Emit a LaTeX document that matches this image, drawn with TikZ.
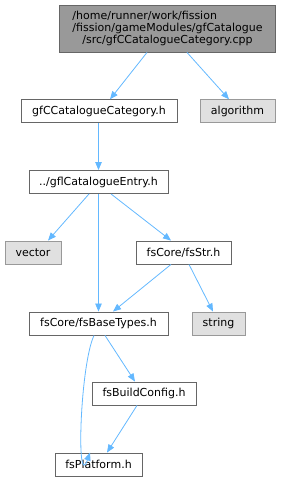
\documentclass[tikz,border=0pt]{standalone}
\usepackage{fontspec}
\setmainfont{DejaVu Sans}
\usetikzlibrary{arrows.meta}
\definecolor{edgeblue}{HTML}{63B8FF}
\definecolor{boxborder}{HTML}{666666}
\definecolor{extfill}{HTML}{E0E0E0}
\definecolor{extborder}{HTML}{999999}
\definecolor{topfill}{HTML}{999999}
\begin{document}
\begin{tikzpicture}[x=1pt,y=1pt,
  every node/.style={font=\fontsize{11}{13}\selectfont, inner sep=0pt, text=black},
  filebox/.style={draw=boxborder, fill=white, line width=0.9pt, minimum height=23pt},
  extbox/.style={draw=extborder, fill=extfill, line width=0.9pt, minimum height=23pt},
  topbox/.style={draw=boxborder, fill=topfill, line width=0.9pt, minimum height=47pt, minimum width=216pt},
  dep/.style={draw=edgeblue, line width=0.8pt, -{Triangle[length=8pt,width=6.5pt]}}]
\useasboundingbox (0,0) rectangle (281,-481);
\node[topbox] (top) at (167.5,-28.5) {\begin{tabular}{@{}c@{}}\multicolumn{1}{@{}l@{}}{/home/runner/work/fission}\\[-1pt]/fission/gameModules/gfCatalogue\\[-1pt]/src/gfCCatalogueCategory.cpp\end{tabular}};
\node[filebox, minimum width=156pt] (gfcc) at (99,-111.25) {gfCCatalogueCategory.h};
\node[extbox, minimum width=75pt] (alg) at (237.5,-111.25) {algorithm};
\node[filebox, minimum width=139pt] (entry) at (98.5,-182) {../gflCatalogueEntry.h};
\node[extbox, minimum width=56pt] (vec) at (33,-252.5) {vector};
\node[filebox, minimum width=95pt] (str) at (183.5,-252.5) {fsCore/fsStr.h};
\node[filebox, minimum width=139pt] (base) at (98.5,-323.5) {fsCore/fsBaseTypes.h};
\node[extbox, minimum width=53pt] (string) at (218.5,-323.5) {string};
\node[filebox, minimum width=104pt] (build) at (144,-393.5) {fsBuildConfig.h};
\node[filebox, minimum width=87pt] (plat) at (98.5,-464.5) {fsPlatform.h};
\draw[dep] ([xshift=-20.5pt]top.south) -- ([xshift=11pt]gfcc.north);
\draw[dep] ([xshift=19.5pt]top.south) -- ([xshift=-8.5pt]alg.north);
\draw[dep] ([xshift=-0.5pt]gfcc.south) -- (entry.north);
\draw[dep] ([xshift=-9.5pt]entry.south) -- ([xshift=15pt]vec.north);
\draw[dep] (entry.south) -- (base.north);
\draw[dep] ([xshift=12.5pt]entry.south) -- ([xshift=-12.5pt]str.north);
\draw[dep] ([xshift=-12.5pt]str.south) -- ([xshift=14.5pt]base.north);
\draw[dep] ([xshift=5.5pt]str.south) -- ([xshift=-5.5pt]string.north);
\draw[dep] ([xshift=6.5pt]base.south) -- ([xshift=-9pt]build.north);
\draw[dep] ([xshift=-7pt]build.south) -- ([xshift=8.5pt]plat.north);
\draw[dep] ([xshift=-4.5pt]base.south) .. controls +(-14,-30) and +(-14,-40) .. ([xshift=-8.5pt]plat.north);
\end{tikzpicture}
\end{document}
